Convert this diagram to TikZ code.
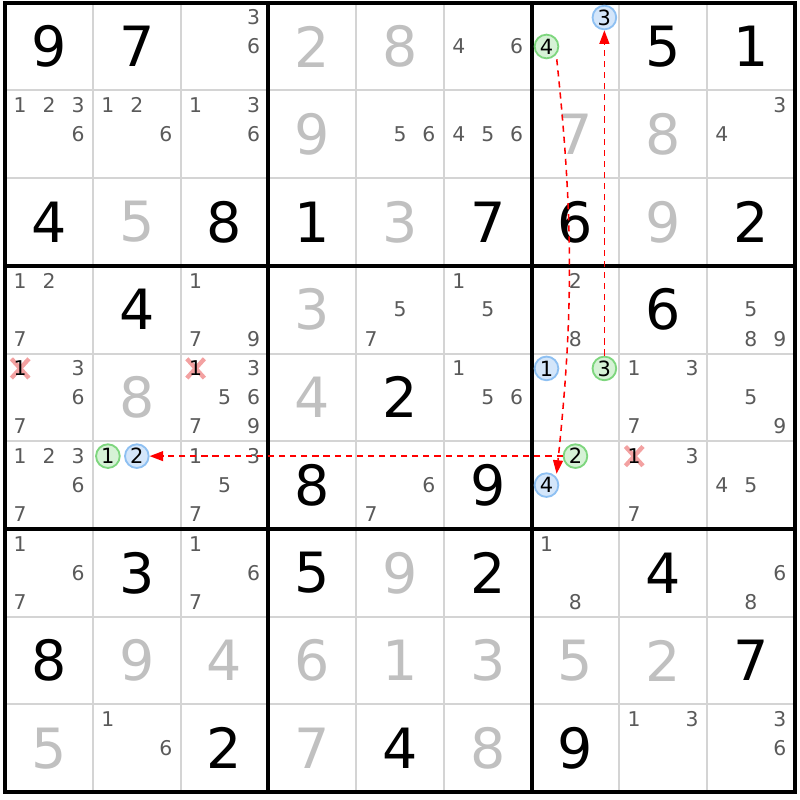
\documentclass[tikz,border=0pt]{standalone}
\usepackage{fontspec}
\setmainfont{DejaVu Sans}
\usepackage{tikz}
\usetikzlibrary{arrows.meta}

\definecolor{candgray}{HTML}{5A5A5A}
\definecolor{solvedgray}{HTML}{C0C0C0}
\definecolor{thingray}{HTML}{D4D4D4}
\definecolor{onfill}{HTML}{D6F2D6}
\definecolor{ondraw}{HTML}{7ED67E}
\definecolor{offfill}{HTML}{D4E6FA}
\definecolor{offdraw}{HTML}{8EC0F2}
\definecolor{crossred}{HTML}{F08A8A}

\newcommand{\cellval}[4]{\node[#4] (r#1c#2) at (#2-0.5, 9.5-#1) {#3};}
\newcommand{\cands}[3]{\foreach \d in {#3}{\node[cand] (r#1c#2n\d) at ({#2-0.5+(mod(\d-1,3)-1)*0.33}, {9.5-#1-(int((\d-1)/3)-1)*0.33}) {\d};}}
\newcommand{\circcand}[4]{\node[#4] (r#1c#2n#3) at ({#2-0.5+(mod(#3-1,3)-1)*0.33}, {9.5-#1-(int((#3-1)/3)-1)*0.33}) {#3};}
\newcommand{\crossone}[2]{%
  \coordinate (r#1c#2x) at (#2-0.83, 9.83-#1);
  \draw[cross] (r#1c#2x) ++(-0.1,-0.11) -- ++(0.2,0.22) ++(-0.2,0) -- ++(0.2,-0.22);
  \node[cand, text=black] (r#1c#2n1) at (r#1c#2x) {1};}

\begin{document}
\begin{tikzpicture}[
  given/.style={inner sep=0pt, text=black, font=\fontsize{18}{18}\selectfont},
  solved/.style={inner sep=0pt, text=solvedgray, font=\fontsize{18}{18}\selectfont},
  cand/.style={inner sep=0pt, text=candgray, font=\fontsize{6.6}{6.6}\selectfont},
  oncand/.style={circle, draw=ondraw, fill=onfill, line width=0.6pt, inner sep=0pt, minimum size=0.27cm, font=\fontsize{6.8}{6.8}\selectfont},
  offcand/.style={circle, draw=offdraw, fill=offfill, line width=0.6pt, inner sep=0pt, minimum size=0.27cm, font=\fontsize{6.8}{6.8}\selectfont},
  cross/.style={crossred, line width=1.4pt, opacity=0.8},
  link/.style={red, line width=0.5pt, dash pattern=on 2pt off 1.6pt, -{Triangle[length=4.4pt, width=3.2pt]}}]
\useasboundingbox (-0.06,-0.09) rectangle (9.06,9.03);
\foreach \i in {1,2,4,5,7,8} {
  \draw[thingray, line width=0.65pt] (\i,0) -- (\i,9);
  \draw[thingray, line width=0.65pt] (0,\i) -- (9,\i);
}
\foreach \i in {3,6} {
  \draw[line width=1.3pt] (\i,0) -- (\i,9);
  \draw[line width=1.3pt] (0,\i) -- (9,\i);
}
\draw[line width=1.3pt] (0,0) rectangle (9,9);

\cellval{1}{1}{9}{given} \cellval{1}{2}{7}{given} \cellval{1}{4}{2}{solved}
\cellval{1}{5}{8}{solved} \cellval{1}{8}{5}{given} \cellval{1}{9}{1}{given}
\cellval{2}{4}{9}{solved} \cellval{2}{7}{7}{solved} \cellval{2}{8}{8}{solved}
\cellval{3}{1}{4}{given} \cellval{3}{2}{5}{solved} \cellval{3}{3}{8}{given}
\cellval{3}{4}{1}{given} \cellval{3}{5}{3}{solved} \cellval{3}{6}{7}{given}
\cellval{3}{7}{6}{given} \cellval{3}{8}{9}{solved} \cellval{3}{9}{2}{given}
\cellval{4}{2}{4}{given} \cellval{4}{4}{3}{solved} \cellval{4}{8}{6}{given}
\cellval{5}{2}{8}{solved} \cellval{5}{4}{4}{solved} \cellval{5}{5}{2}{given}
\cellval{6}{4}{8}{given} \cellval{6}{6}{9}{given}
\cellval{7}{2}{3}{given} \cellval{7}{4}{5}{given} \cellval{7}{5}{9}{solved}
\cellval{7}{6}{2}{given} \cellval{7}{8}{4}{given}
\cellval{8}{1}{8}{given} \cellval{8}{2}{9}{solved} \cellval{8}{3}{4}{solved}
\cellval{8}{4}{6}{solved} \cellval{8}{5}{1}{solved} \cellval{8}{6}{3}{solved}
\cellval{8}{7}{5}{solved} \cellval{8}{8}{2}{solved} \cellval{8}{9}{7}{given}
\cellval{9}{1}{5}{solved} \cellval{9}{3}{2}{given} \cellval{9}{4}{7}{solved}
\cellval{9}{5}{4}{given} \cellval{9}{6}{8}{solved} \cellval{9}{7}{9}{given}

\cands{1}{3}{3,6} \cands{1}{6}{4,6}
\cands{2}{1}{1,2,3,6} \cands{2}{2}{1,2,6} \cands{2}{3}{1,3,6}
\cands{2}{5}{5,6} \cands{2}{6}{4,5,6} \cands{2}{9}{3,4}
\cands{4}{1}{1,2,7} \cands{4}{3}{1,7,9} \cands{4}{5}{5,7}
\cands{4}{6}{1,5} \cands{4}{7}{2,8} \cands{4}{9}{5,8,9}
\cands{5}{1}{3,6,7} \cands{5}{3}{3,5,6,7,9} \cands{5}{6}{1,5,6}
\cands{5}{8}{1,3,7} \cands{5}{9}{5,9}
\cands{6}{1}{1,2,3,6,7} \cands{6}{3}{1,3,5,7} \cands{6}{5}{6,7}
\cands{6}{8}{3,7} \cands{6}{9}{4,5}
\cands{7}{1}{1,6,7} \cands{7}{3}{1,6,7} \cands{7}{7}{1,8} \cands{7}{9}{6,8}
\cands{9}{2}{1,6} \cands{9}{8}{1,3} \cands{9}{9}{3,6}

\crossone{5}{1} \crossone{5}{3} \crossone{6}{8}

\circcand{1}{7}{4}{oncand} \circcand{1}{7}{3}{offcand}
\circcand{5}{7}{1}{offcand} \circcand{5}{7}{3}{oncand}
\circcand{6}{7}{2}{oncand} \circcand{6}{7}{4}{offcand}
\circcand{6}{2}{1}{oncand} \circcand{6}{2}{2}{offcand}

\draw[link] (r5c7n3) -- (r1c7n3);
\draw[link, shorten <=1.5pt, shorten >=1pt] (r1c7n4.-40) to[out=-84, in=84] (r6c7n4.40);
\draw[link] (r6c7n2) -- (r6c2n2);
\end{tikzpicture}
\end{document}
